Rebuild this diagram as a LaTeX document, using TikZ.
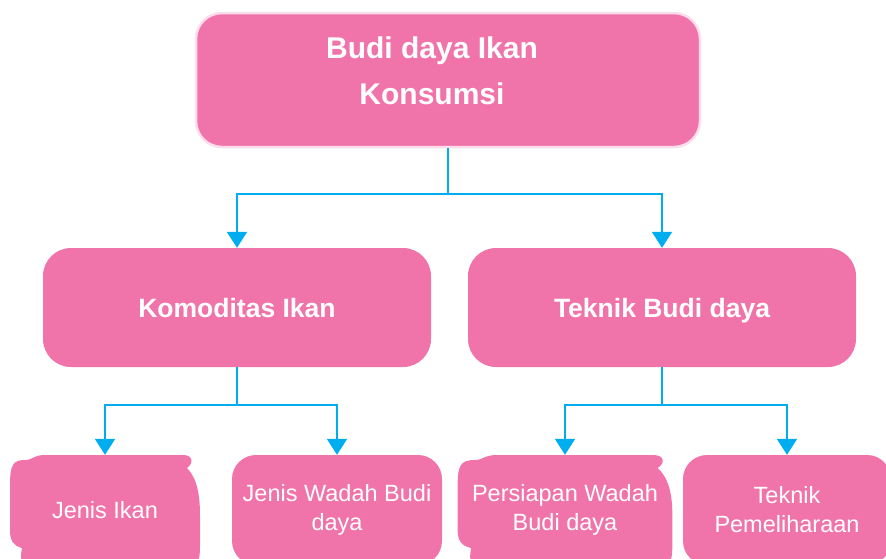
\documentclass[tikz,border=0pt]{standalone}
\usepackage{fontspec}
\setmainfont{Liberation Sans}
\usepackage{tikz}
\usetikzlibrary{arrows.meta,positioning,backgrounds}
\definecolor{bdpink}{RGB}{240,116,170}
\definecolor{bdlightpink}{RGB}{251,222,234}
\definecolor{bdblue}{RGB}{0,174,239}
\tikzstyle{arrow} = [line width=2pt,-{Triangle[width=20pt,length=16pt]},color=bdblue]
\tikzstyle{mainbox} = [rectangle, rounded corners=26pt, fill=bdpink, draw=bdlightpink, line width=2.5pt, text=white, align=center, font=\fontsize{30}{46}\selectfont\bfseries]
\tikzstyle{topicbox} = [rectangle, rounded corners=28pt, fill=bdpink, text=white, align=center, minimum width=388pt, minimum height=119pt, text height=26pt, text depth=6pt, font=\fontsize{26.5}{32}\selectfont\bfseries]
\tikzstyle{itembox} = [rectangle, rounded corners=24pt, fill=bdpink, text=white, align=center, minimum height=110pt, font=\fontsize{23.5}{29}\selectfont]
\tikzstyle{blobbox} = [itembox, fill=none]
% irregular outline of some item boxes
\newcommand{\blobfill}{%
  \fill[bdpink] (-95,-25)
    .. controls (-95,-45) and (-92,-50) .. (-80,-50)
    .. controls (-72,-50) and (-72,-55) .. (-60,-55)
    -- (78,-55)
    .. controls (88,-55) and (89,-47) .. (82,-42)
    .. controls (92,-32) and (95,-15) .. (95,5)
    -- (95,35)
    .. controls (95,55) and (92,60) .. (75,60)
    -- (-70,60)
    .. controls (-82,60) and (-86,52) .. (-83,38)
    .. controls (-92,36) and (-95,30) .. (-95,20)
    -- cycle;}

\begin{document}
\begin{tikzpicture}[x=1pt, y=-1pt]
\clip (0,0) rectangle (886,558);
% Title
\node[mainbox, minimum width=504pt, minimum height=134pt] (main) at (448,80) {\hspace*{-32pt}Budi daya Ikan\\\hspace*{-32pt}Konsumsi\rule[-18pt]{0pt}{0pt}};

% Topics
\node[topicbox] (kom) at (237,307.5) {Komoditas Ikan};
\node[topicbox] (tek) at (662,307.5) {Teknik Budi daya};

% Items below
\node[blobbox, minimum width=190pt] (jenis) at (105,510) {Jenis Ikan};
\node[itembox, minimum width=210pt] (wadah) at (337,510) {Jenis Wadah Budi\\daya};
\node[blobbox, minimum width=215pt] (persiapan) at (565,510) {Persiapan Wadah\\Budi daya};
\node[itembox, minimum width=208pt] (pelihara) at (787,510) {Teknik\\Pemeliharaan};

\begin{scope}[on background layer]
\begin{scope}[shift={(jenis.center)}]
\blobfill
\end{scope}
\begin{scope}[shift={(persiapan.center)}, xscale=1.13]
\blobfill
\end{scope}
\end{scope}

% Arrows
\draw[arrow] (main.south) -- ++(0,46) -| (kom.north);
\draw[arrow] (main.south) -- ++(0,46) -| (tek.north);
\draw[arrow] (kom.south) -- ++(0,38) -| (jenis.north);
\draw[arrow] (kom.south) -- ++(0,38) -| (wadah.north);
\draw[arrow] (tek.south) -- ++(0,38) -| (persiapan.north);
\draw[arrow] (tek.south) -- ++(0,38) -| (pelihara.north);
\end{tikzpicture}
\end{document}
